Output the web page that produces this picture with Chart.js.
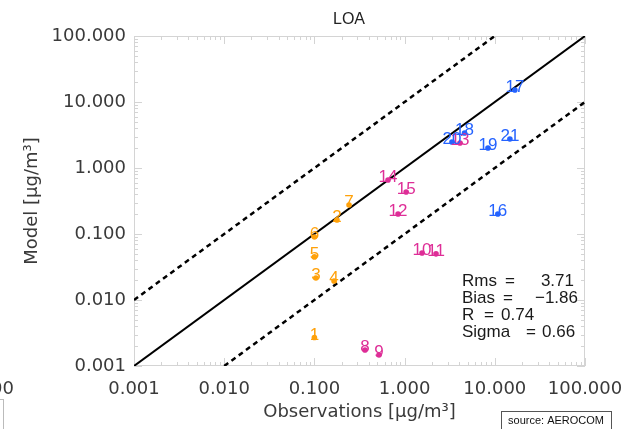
<!DOCTYPE html>
<html>
<head>
<meta charset="utf-8">
<script src="https://cdn.jsdelivr.net/npm/chart.js@4.4.0/dist/chart.umd.min.js"></script>
<style>
  html, body { margin: 0; padding: 0; background: #ffffff; }
  #wrap { width: 628px; height: 429px; position: relative; }
</style>
</head>
<body>
<div id="wrap"><canvas id="chart" width="628" height="429"></canvas></div>
<script>
// Station numbers with observed and modelled concentrations (µg/m³), grouped by region colour
const orangeIds = ['1', '2', '3', '4', '5', '6', '7'];
const orangeObs = [0.100, 0.178, 0.104, 0.165, 0.100, 0.100, 0.242];
const orangeMod = [0.0027, 0.163, 0.0215, 0.0194, 0.045, 0.090, 0.275];

const magentaIds = ['8', '9', '10', '11', '12', '13', '14', '15'];
const magentaObs = [0.364, 0.52, 1.56, 2.23, 0.846, 4.11, 0.655, 1.04];
const magentaMod = [0.00175, 0.00147, 0.0515, 0.050, 0.201, 2.39, 0.658, 0.433];

const blueIds = ['16', '17', '18', '19', '20', '21'];
const blueObs = [10.8, 16.7, 4.62, 8.4, 3.35, 14.7];
const blueMod = [0.201, 15.2, 3.39, 2.01, 2.48, 2.75];

// Axis decades and their labels
const tickValues = [0.001, 0.01, 0.1, 1, 10, 100];
const tickLabels = ['0.001', '0.010', '0.100', '1.000', '10.000', '100.000'];

// 1:1 line and factor-of-10 envelopes
const oneToOne = [{ x: 0.001, y: 0.001 }, { x: 100, y: 100 }];
const upperFactor10 = [{ x: 0.001, y: 0.01 }, { x: 10, y: 100 }];
const lowerFactor10 = [{ x: 0.01, y: 0.001 }, { x: 100, y: 10 }];

// Summary statistics
const statNames = ['Rms', 'Bias', 'R', 'Sigma'];
const statValues = ['3.71', '\u22121.86', '0.74', '0.66'];

const chartTitle = 'LOA';
const xTitle = 'Observations [\u03bcg/m\u00b3]';
const yTitle = 'Model [\u03bcg/m\u00b3]';
const sourceText = 'source: AEROCOM';

const toPoints = (xs, ys) => xs.map((v, i) => ({ x: v, y: ys[i] }));

const tickFont = { family: 'DejaVu Sans', size: 18 };
const textGrey = '#3a3a3a';

function fixedTicks(scale) {
  scale.ticks = tickValues.map(v => ({ value: v }));
}
function tickText(value) {
  const i = tickValues.findIndex(v => Math.abs(Math.log10(v) - Math.log10(value)) < 1e-6);
  return i >= 0 ? tickLabels[i] : '';
}

// Light frame with inward log ticks on all four sides
const framePlugin = {
  id: 'frame',
  beforeDatasetsDraw(chart) {
    const { ctx, chartArea: a, scales: { x, y } } = chart;
    ctx.save();
    ctx.strokeStyle = '#d4d4d4';
    ctx.lineWidth = 1;
    ctx.strokeRect(a.left + 0.5, a.top + 0.5, a.right - a.left - 1, a.bottom - a.top - 1);
    ctx.beginPath();
    for (let e = -3; e <= 2; e++) {
      for (let m = 1; m <= 9; m++) {
        const v = m * Math.pow(10, e);
        if (v > 100.0001) break;
        const len = m === 1 ? 8 : 4;
        const px = Math.round(x.getPixelForValue(v)) + 0.5;
        ctx.moveTo(px, a.bottom); ctx.lineTo(px, a.bottom - len);
        ctx.moveTo(px, a.top); ctx.lineTo(px, a.top + len);
        const py = Math.round(y.getPixelForValue(v)) + 0.5;
        ctx.moveTo(a.left, py); ctx.lineTo(a.left + len, py);
        ctx.moveTo(a.right, py); ctx.lineTo(a.right - len, py);
      }
    }
    ctx.stroke();
    ctx.restore();
  }
};

// Station numbers written just above each marker
const pointLabelPlugin = {
  id: 'pointLabels',
  afterDatasetsDraw(chart) {
    const { ctx } = chart;
    ctx.save();
    ctx.font = '17px "Liberation Sans", Arial, sans-serif';
    ctx.textAlign = 'center';
    ctx.textBaseline = 'alphabetic';
    chart.data.datasets.forEach((ds, di) => {
      if (!ds.stationIds) return;
      const meta = chart.getDatasetMeta(di);
      ctx.fillStyle = ds.backgroundColor;
      meta.data.forEach((el, i) => {
        ctx.fillText(ds.stationIds[i], el.x, el.y + 2);
      });
    });
    ctx.restore();
  }
};

// Title, statistics block and credit box
const annotationPlugin = {
  id: 'annotations',
  afterDraw(chart) {
    const { ctx } = chart;
    ctx.save();
    ctx.fillStyle = '#222';
    ctx.font = '16px "Liberation Sans", Arial, sans-serif';
    ctx.textAlign = 'center';
    ctx.textBaseline = 'middle';
    ctx.fillText(chartTitle, 349, 20);

    ctx.font = '17px "Liberation Sans", Arial, sans-serif';
    ctx.fillStyle = '#1a1a1a';
    const rows = [281, 298, 315, 332];
    const eqX = [510, 508, 489, 531];
    rows.forEach((ry, i) => {
      ctx.textAlign = 'left';
      ctx.fillText(statNames[i], 462, ry);
      ctx.textAlign = 'center';
      ctx.fillText('=', eqX[i], ry);
    });
    ctx.textAlign = 'right';
    ctx.fillText(statValues[0], 574, rows[0]);
    ctx.fillText(statValues[1], 578, rows[1]);
    ctx.textAlign = 'left';
    ctx.fillText(statValues[2], 501, rows[2]);
    ctx.fillText(statValues[3], 542, rows[3]);

    // credit box
    ctx.strokeStyle = '#555';
    ctx.lineWidth = 1;
    ctx.strokeRect(501.5, 411.5, 110, 20);
    ctx.fillStyle = '#111';
    ctx.font = '11px "Liberation Sans", Arial, sans-serif';
    ctx.textAlign = 'center';
    ctx.textBaseline = 'middle';
    ctx.fillText(sourceText, 556, 421);

    // edge of the neighbouring panel
    ctx.fillStyle = textGrey;
    ctx.font = '18px "DejaVu Sans", sans-serif';
    ctx.textAlign = 'right';
    ctx.fillText('00', 14, 389);
    ctx.strokeStyle = '#bbbbbb';
    ctx.strokeRect(-10.5, 399.5, 14, 40);
    ctx.restore();
  }
};

const lineStyle = { borderColor: '#000', borderWidth: 2, pointRadius: 0, showLine: true, fill: false, order: 10 };

new Chart(document.getElementById('chart'), {
  type: 'scatter',
  data: {
    datasets: [
      { ...lineStyle, data: oneToOne },
      { ...lineStyle, data: upperFactor10, borderDash: [5, 4], borderWidth: 2.5 },
      { ...lineStyle, data: lowerFactor10, borderDash: [5, 4], borderWidth: 2.5 },
      { data: toPoints(orangeObs, orangeMod), stationIds: orangeIds, backgroundColor: '#ffa10a', borderWidth: 0, pointRadius: 2.8, order: 1 },
      { data: toPoints(magentaObs, magentaMod), stationIds: magentaIds, backgroundColor: '#de2e97', borderWidth: 0, pointRadius: 2.8, order: 1 },
      { data: toPoints(blueObs, blueMod), stationIds: blueIds, backgroundColor: '#2563ff', borderWidth: 0, pointRadius: 2.8, order: 1 }
    ]
  },
  options: {
    responsive: false,
    animation: false,
    devicePixelRatio: 1,
    layout: { padding: { top: 36, right: 43, left: 0, bottom: 0 } },
    plugins: { legend: { display: false }, tooltip: { enabled: false }, title: { display: false } },
    scales: {
      x: {
        type: 'logarithmic', min: 0.001, max: 100,
        afterBuildTicks: fixedTicks,
        afterFit: s => { s.height = 63; s.paddingLeft = 0; s.paddingRight = 0; },
        grid: { display: false, drawTicks: false, tickLength: 0 },
        border: { display: false },
        ticks: { font: tickFont, color: textGrey, padding: 13, autoSkip: false, maxRotation: 0, callback: tickText },
        title: { display: true, text: xTitle, font: { family: 'DejaVu Sans', size: 18 }, color: textGrey, padding: { top: 0, bottom: 6 } }
      },
      y: {
        type: 'logarithmic', min: 0.001, max: 100,
        afterBuildTicks: fixedTicks,
        afterFit: s => { s.width = 134; s.paddingTop = 0; s.paddingBottom = 0; },
        grid: { display: false, drawTicks: false, tickLength: 0 },
        border: { display: false },
        ticks: { font: tickFont, color: textGrey, padding: 8, autoSkip: false, callback: tickText },
        title: { display: true, text: yTitle, font: { family: 'DejaVu Sans', size: 18 }, color: textGrey, padding: { top: 22, bottom: 0 } }
      }
    }
  },
  plugins: [framePlugin, pointLabelPlugin, annotationPlugin]
});
</script>
</body>
</html>
